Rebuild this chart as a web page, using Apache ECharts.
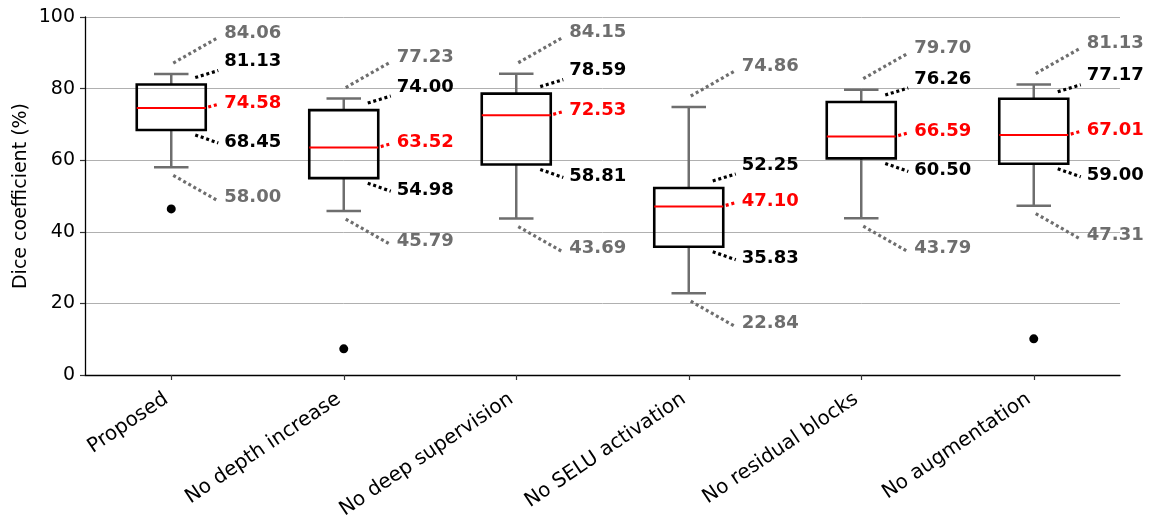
<!DOCTYPE html>
<html>
<head>
<meta charset="utf-8">
<script src="https://cdn.jsdelivr.net/npm/echarts@6/dist/echarts.min.js"></script>
<style>
  html, body { margin: 0; padding: 0; background: #ffffff; }
  #chart { width: 1160px; height: 517px; }
</style>
</head>
<body>
<div id="chart"></div>
<script>
// Ablation study: Dice coefficient distribution per model variant
const categories = ['Proposed', 'No depth increase', 'No deep supervision',
                    'No SELU activation', 'No residual blocks', 'No augmentation'];
const whiskerLow  = [58.00, 45.79, 43.69, 22.84, 43.79, 47.31];
const q1          = [68.45, 54.98, 58.81, 35.83, 60.50, 59.00];
const median      = [74.58, 63.52, 72.53, 47.10, 66.59, 67.01];
const q3          = [81.13, 74.00, 78.59, 52.25, 76.26, 77.17];
const whiskerHigh = [84.06, 77.23, 84.15, 74.86, 79.70, 81.13];
// outliers as [category index, value]
const outliers = [[0, 46.4], [1, 7.3], [5, 10.1]];
const yTicks = [0, 20, 40, 60, 80, 100];

const GREY = '#6e6e6e';
const BLACK = '#000000';
const RED = '#ff0000';
const FONT = '"DejaVu Sans", sans-serif';

const boxData = categories.map((c, i) =>
  [i, whiskerLow[i], q1[i], median[i], q3[i], whiskerHigh[i]]);

function dotted(points, color) {
  return {
    type: 'polyline',
    shape: { points: points },
    style: { stroke: color, lineWidth: 3.2, lineDash: [3, 2.8], lineCap: 'butt', fill: null },
    z2: 5
  };
}

function valueLabel(x, y, value, color) {
  return {
    type: 'text',
    x: x, y: y,
    style: {
      text: value.toFixed(2),
      fill: color,
      font: 'bold 18px ' + FONT,
      align: 'left',
      verticalAlign: 'middle'
    },
    z2: 6
  };
}

function renderBox(params, api) {
  const i = api.value(0);
  const band = api.size([1, 0])[0];
  const boxHalf = band * 0.2;
  const capHalf = band * 0.1;
  const pLo = api.coord([i, api.value(1)]);
  const pQ1 = api.coord([i, api.value(2)]);
  const pMed = api.coord([i, api.value(3)]);
  const pQ3 = api.coord([i, api.value(4)]);
  const pHi = api.coord([i, api.value(5)]);
  const cx = pMed[0];
  const lineW = { lineWidth: 2.5 };
  const children = [];

  // whiskers and caps
  children.push({ type: 'line', shape: { x1: cx, y1: pQ1[1], x2: cx, y2: pLo[1] },
    style: Object.assign({ stroke: GREY }, lineW) });
  children.push({ type: 'line', shape: { x1: cx, y1: pQ3[1], x2: cx, y2: pHi[1] },
    style: Object.assign({ stroke: GREY }, lineW) });
  children.push({ type: 'line', shape: { x1: cx - capHalf, y1: pLo[1], x2: cx + capHalf, y2: pLo[1] },
    style: Object.assign({ stroke: GREY }, lineW) });
  children.push({ type: 'line', shape: { x1: cx - capHalf, y1: pHi[1], x2: cx + capHalf, y2: pHi[1] },
    style: Object.assign({ stroke: GREY }, lineW) });

  // box (unfilled)
  children.push({ type: 'rect',
    shape: { x: cx - boxHalf, y: pQ3[1], width: boxHalf * 2, height: pQ1[1] - pQ3[1] },
    style: { stroke: BLACK, lineWidth: 2.6, fill: null }, z2: 3 });

  // median
  children.push({ type: 'line',
    shape: { x1: cx - boxHalf, y1: pMed[1], x2: cx + boxHalf, y2: pMed[1] },
    style: { stroke: RED, lineWidth: 2 }, z2: 4 });

  // value annotations
  const tx = cx + 53;
  const notes = [
    { y: pHi[1],  v: api.value(5), c: GREY,  a: [2, -11], b: [46, -36], t: -41 },
    { y: pQ3[1],  v: api.value(4), c: BLACK, a: [24, -7], b: [47, -14], t: -23 },
    { y: pMed[1], v: api.value(3), c: RED,   a: [37, -1], b: [48, -4],  t: -5 },
    { y: pQ1[1],  v: api.value(2), c: BLACK, a: [24, 5],  b: [47, 13],  t: 12 },
    { y: pLo[1],  v: api.value(1), c: GREY,  a: [2, 8],   b: [46, 33],  t: 30 }
  ];
  notes.forEach(n => {
    children.push(dotted([[cx + n.a[0], n.y + n.a[1]], [cx + n.b[0], n.y + n.b[1]]], n.c));
    children.push(valueLabel(tx, n.y + n.t, n.v, n.c));
  });

  return { type: 'group', children: children };
}

const chart = echarts.init(document.getElementById('chart'), null, { renderer: 'canvas' });
chart.setOption({
  animation: false,
  backgroundColor: '#ffffff',
  grid: { left: 85, right: 40, top: 17, bottom: 142, containLabel: false, outerBoundsMode: 'none' },
  xAxis: {
    type: 'category',
    data: categories,
    boundaryGap: true,
    axisLine: { show: true, lineStyle: { color: '#000000', width: 1.3 } },
    axisTick: { show: true, alignWithLabel: true, length: 5, lineStyle: { color: '#333333', width: 1.2 } },
    axisLabel: { rotate: 34, fontSize: 20, fontFamily: FONT, color: '#000000', margin: 19,
                 interval: 0, padding: [0, 6, 0, 0] },
    splitLine: { show: false }
  },
  yAxis: {
    type: 'value',
    min: yTicks[0],
    max: yTicks[yTicks.length - 1],
    interval: yTicks[1] - yTicks[0],
    name: 'Dice coefficient (%)',
    nameLocation: 'middle',
    nameGap: 54,
    nameMoveOverlap: false,
    nameTextStyle: { fontSize: 19, fontFamily: FONT, color: '#000000' },
    axisLine: { show: true, lineStyle: { color: '#000000', width: 1.3 } },
    axisTick: { show: true, length: 5, lineStyle: { color: '#333333', width: 1.2 } },
    axisLabel: { fontSize: 19, fontFamily: FONT, color: '#000000', margin: 10 },
    splitLine: { show: true, lineStyle: { color: '#b0b0b0', width: 1 } }
  },
  series: [
    {
      type: 'custom',
      renderItem: renderBox,
      data: boxData,
      encode: { x: 0, y: [1, 2, 3, 4, 5] },
      clip: false,
      z: 3
    },
    {
      type: 'scatter',
      data: outliers,
      symbol: 'circle',
      symbolSize: 9,
      itemStyle: { color: '#000000', opacity: 1 },
      z: 4
    }
  ]
});
</script>
</body>
</html>
